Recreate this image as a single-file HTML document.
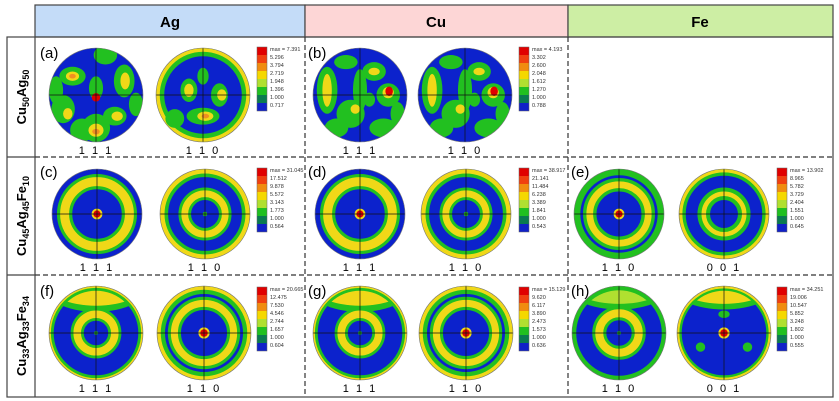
<!DOCTYPE html>
<html><head><meta charset="utf-8"><style>
html,body{margin:0;padding:0;background:#fff;width:839px;height:401px;overflow:hidden}
svg{display:block;font-family:"Liberation Sans",sans-serif}
</style></head><body>
<svg id="fig" width="839" height="401" viewBox="0 0 839 401">
<g>
<rect x="35" y="5" width="270" height="32" fill="#c4dcf8" stroke="#444" stroke-width="1.2"/>
<rect x="305" y="5" width="263" height="32" fill="#fdd6d6" stroke="#444" stroke-width="1.2"/>
<rect x="568" y="5" width="265" height="32" fill="#cdeea4" stroke="#444" stroke-width="1.2"/>
<text x="170" y="27" text-anchor="middle" font-size="15" font-weight="bold">Ag</text>
<text x="436" y="27" text-anchor="middle" font-size="15" font-weight="bold">Cu</text>
<text x="700" y="27" text-anchor="middle" font-size="15" font-weight="bold">Fe</text>
</g>
<g>
<rect x="7" y="37" width="826" height="360" fill="none" stroke="#444" stroke-width="1.2"/>
<line x1="35" y1="37" x2="35" y2="397" stroke="#444" stroke-width="1.2"/>
<line x1="7" y1="157" x2="35" y2="157" stroke="#444" stroke-width="1.2"/>
<line x1="7" y1="275" x2="35" y2="275" stroke="#444" stroke-width="1.2"/>
<line x1="35" y1="157" x2="833" y2="157" stroke="#333" stroke-width="1.2" stroke-dasharray="5,3"/>
<line x1="35" y1="275" x2="833" y2="275" stroke="#333" stroke-width="1.2" stroke-dasharray="5,3"/>
<line x1="305" y1="37" x2="305" y2="397" stroke="#333" stroke-width="1.2" stroke-dasharray="5,3"/>
<line x1="568" y1="37" x2="568" y2="397" stroke="#333" stroke-width="1.2" stroke-dasharray="5,3"/>
</g>
<g>
<text transform="translate(26,97) rotate(-90)" text-anchor="middle" font-size="13" font-weight="bold">Cu<tspan font-size="9" dy="3">50</tspan><tspan dy="-3">Ag</tspan><tspan font-size="9" dy="3">50</tspan></text>
<text transform="translate(26,216) rotate(-90)" text-anchor="middle" font-size="13" font-weight="bold">Cu<tspan font-size="9" dy="3">45</tspan><tspan dy="-3">Ag</tspan><tspan font-size="9" dy="3">45</tspan><tspan dy="-3">Fe</tspan><tspan font-size="9" dy="3">10</tspan></text>
<text transform="translate(26,336) rotate(-90)" text-anchor="middle" font-size="13" font-weight="bold">Cu<tspan font-size="9" dy="3">33</tspan><tspan dy="-3">Ag</tspan><tspan font-size="9" dy="3">33</tspan><tspan dy="-3">Fe</tspan><tspan font-size="9" dy="3">34</tspan></text>
</g>
<g id="plots"></g>
</svg>
<script>
const legendColors=["#e00000","#f04010","#f08c10","#f5d800","#b0e030","#20c020","#0a7a50","#1020c8"];
const legendAMax="max = 7.391", legendA=["5.296","3.794","2.719","1.948","1.396","1.000","0.717"];
const legendBMax="max = 4.193", legendB=["3.302","2.600","2.048","1.612","1.270","1.000","0.788"];
const legendCMax="max = 31.045", legendC=["17.512","9.878","5.572","3.143","1.773","1.000","0.564"];
const legendDMax="max = 38.917", legendD=["21.141","11.484","6.238","3.389","1.841","1.000","0.543"];
const legendEMax="max = 13.902", legendE=["8.965","5.782","3.729","2.404","1.551","1.000","0.645"];
const legendFMax="max = 20.665", legendF=["12.475","7.530","4.546","2.744","1.657","1.000","0.604"];
const legendGMax="max = 15.129", legendG=["9.620","6.117","3.890","2.473","1.573","1.000","0.636"];
const legendHMax="max = 34.251", legendH=["19.006","10.547","5.852","3.248","1.802","1.000","0.555"];
const NS="http://www.w3.org/2000/svg";
const root=document.getElementById('plots');
function el(t,a,p){const e=document.createElementNS(NS,t);for(const k in a)e.setAttribute(k,a[k]);(p||root).appendChild(e);return e;}
const BLUE="#0c22cc",GREEN="#22c020",YEL="#f0d818",ORG="#f09020",RED="#e00000",LG="#b0e030";
function pole(cx,cy,r,kind,name,label){
  const g=el('g',{});
  
  
  const id='c'+name;
  const cp=el('clipPath',{id:id},g);el('circle',{cx:cx,cy:cy,r:r},cp);
  const inner=el('g',{'clip-path':'url(#'+id+')'},g);
  el('circle',{cx:cx,cy:cy,r:r,fill:BLUE},inner);
  const ring=(rr,w,c)=>el('circle',{cx:cx,cy:cy,r:rr*r,fill:'none',stroke:c,'stroke-width':w*r},inner);
  const dot=(dx,dy,rx,ry,c)=>el('ellipse',{cx:cx+dx*r,cy:cy+dy*r,rx:rx*r,ry:ry*r,fill:c},inner);
  if(kind==='rand1'){[[-.5,-.4,.28,.2],[.6,-.3,.22,.35],[-.7,.3,.25,.3],[.4,.45,.25,.2],[0,.7,.3,.3],[-.3,.75,.25,.25],[0,-.15,.15,.25],[.2,-.85,.25,.2],[-.85,-.1,.15,.3],[.85,.2,.15,.25]].forEach(b=>dot(b[0],b[1],b[2],b[3],GREEN));
    [[-.5,-.4,.14,.1],[.62,-.3,.1,.18],[0,.75,.16,.14],[.45,.45,.12,.1],[-.6,.4,.1,.12]].forEach(b=>dot(b[0],b[1],b[2],b[3],YEL));[[-.5,-.4,.07,.05],[0,.78,.08,.06]].forEach(b=>dot(b[0],b[1],b[2],b[3],ORG));dot(0,.05,.09,.09,RED);}
  if(kind==='rand2'){ring(1,.35,GREEN);ring(1,.16,YEL);[[-.3,-.1,.18,.25],[.35,0,.18,.25],[0,.45,.35,.18],[0,-.4,.12,.18],[-.6,.5,.2,.2]].forEach(b=>dot(b[0],b[1],b[2],b[3],GREEN));[[-.3,-.1,.1,.14],[.05,.45,.17,.1],[.4,0,.1,.12]].forEach(b=>dot(b[0],b[1],b[2],b[3],YEL));dot(.05,.45,.08,.05,ORG);}
  if(kind==='rand3'){[[-.7,-.1,.22,.5],[.3,-.5,.25,.2],[.6,0,.25,.25],[-.2,.4,.3,.3],[.5,.7,.3,.2],[-.5,.7,.25,.2],[0,-.1,.15,.45],[.8,.4,.15,.25],[-.3,-.7,.25,.15],[.2,.1,.12,.15]].forEach(b=>dot(b[0],b[1],b[2],b[3],GREEN));
    [[-.7,-.1,.1,.35],[.6,-.05,.12,.12],[.3,-.5,.12,.08],[-.1,.3,.1,.1]].forEach(b=>dot(b[0],b[1],b[2],b[3],YEL));dot(.62,-.08,.08,.1,RED);}
  if(kind==='ring111'){ring(.72,.34,GREEN);ring(.72,.2,YEL);dot(0,0,.12,.12,YEL);dot(0,0,.08,.08,RED);}
  if(kind==='ring110'){ring(1,.36,GREEN);ring(1,.2,YEL);ring(.45,.28,GREEN);ring(.45,.15,YEL);dot(0,0,.05,.05,GREEN);}
  if(kind==='feRing'){ring(1,.28,GREEN);ring(.65,.3,GREEN);ring(.65,.15,YEL);dot(0,0,.12,.12,YEL);dot(0,0,.08,.08,RED);}
  if(kind==='fe001'){ring(1,.3,GREEN);ring(1,.15,YEL);ring(.45,.28,GREEN);ring(.45,.1,YEL);}
  if(kind==='cap111'){dot(0,-1.05,1.15,.6,GREEN);dot(0,-1.1,1.1,.52,YEL);ring(1,.2,GREEN);ring(1,.08,YEL);ring(.4,.28,GREEN);ring(.4,.16,YEL);dot(0,0,.04,.04,GREEN);}
  if(kind==='cap110'){ring(1,.34,GREEN);ring(1,.16,YEL);ring(.63,.28,GREEN);ring(.63,.15,YEL);dot(0,0,.12,.12,YEL);dot(0,0,.08,.08,RED);}
  if(kind==='h110'){dot(0,-1.05,1.15,.55,GREEN);dot(0,-1.1,1.1,.48,LG);ring(1,.18,GREEN);ring(.42,.3,GREEN);ring(.42,.17,YEL);dot(0,0,.04,.04,GREEN);}
  if(kind==='h001'){dot(0,-1.05,1.15,.55,GREEN);dot(0,-1.1,1.1,.48,YEL);ring(1,.2,GREEN);ring(1,.1,YEL);dot(0,0,.12,.12,YEL);dot(0,0,.08,.08,RED);dot(0,-.4,.12,.08,GREEN);dot(-.5,.3,.1,.1,GREEN);dot(.5,.3,.1,.1,GREEN);}
  el('line',{x1:cx-r,y1:cy,x2:cx+r,y2:cy,stroke:'#111','stroke-width':.7},inner);
  el('line',{x1:cx,y1:cy-r,x2:cx,y2:cy+r,stroke:'#111','stroke-width':.7},inner);
  el('circle',{cx:cx,cy:cy,r:r,fill:'none',stroke:'#777','stroke-width':.6},g);
  const t=el('text',{x:cx,y:cy+r+12,'text-anchor':'middle','font-size':11,'letter-spacing':'2'},g);
  
  
  t.textContent=label;
}
function legend(x,y,maxLbl,vals,name){
  const g=el('g',{});
  
  
  legendColors.forEach((c,i)=>el('rect',{x:x,y:y+i*8,width:10,height:8,fill:c},g));
  el('rect',{x:x,y:y,width:10,height:64,fill:'none',stroke:'#666','stroke-width':.5},g);
  const all=[maxLbl].concat(vals);
  all.forEach((v,i)=>{const t=el('text',{x:x+13,y:y+4+i*8,'font-size':5.5,fill:'#333'},g);t.textContent=v;});
}
const rows=[95,214,333];
const R=[47,45,47];
pole(96,rows[0],R[0],'rand1','pole-a-111','1 1 1');pole(203,rows[0],R[0],'rand2','pole-a-110','1 1 0');legend(257,47,legendAMax,legendA,'legend-a');
pole(360,rows[0],R[0],'rand3','pole-b-111','1 1 1');pole(465,rows[0],R[0],'rand3','pole-b-110','1 1 0');legend(519,47,legendBMax,legendB,'legend-b');
pole(97,rows[1],R[1],'ring111','pole-c-111','1 1 1');pole(205,rows[1],R[1],'ring110','pole-c-110','1 1 0');legend(257,168,legendCMax,legendC,'legend-c');
pole(360,rows[1],R[1],'ring111','pole-d-111','1 1 1');pole(466,rows[1],R[1],'ring110','pole-d-110','1 1 0');legend(519,168,legendDMax,legendD,'legend-d');
pole(619,rows[1],R[1],'feRing','pole-e-110','1 1 0');pole(724,rows[1],R[1],'fe001','pole-e-001','0 0 1');legend(777,168,legendEMax,legendE,'legend-e');
pole(96,rows[2],R[2],'cap111','pole-f-111','1 1 1');pole(204,rows[2],R[2],'cap110','pole-f-110','1 1 0');legend(257,287,legendFMax,legendF,'legend-f');
pole(360,rows[2],R[2],'cap111','pole-g-111','1 1 1');pole(466,rows[2],R[2],'cap110','pole-g-110','1 1 0');legend(519,287,legendGMax,legendG,'legend-g');
pole(619,rows[2],R[2],'h110','pole-h-110','1 1 0');pole(724,rows[2],R[2],'h001','pole-h-001','0 0 1');legend(777,287,legendHMax,legendH,'legend-h');
const panelLabels=[["(a)",40,58],["(b)",308,58],["(c)",40,177],["(d)",308,177],["(e)",571,177],["(f)",40,296],["(g)",308,296],["(h)",571,296]];
panelLabels.forEach(p=>{const t=el('text',{x:p[1],y:p[2],'font-size':15});


t.textContent=p[0];});
</script>
</body></html>
